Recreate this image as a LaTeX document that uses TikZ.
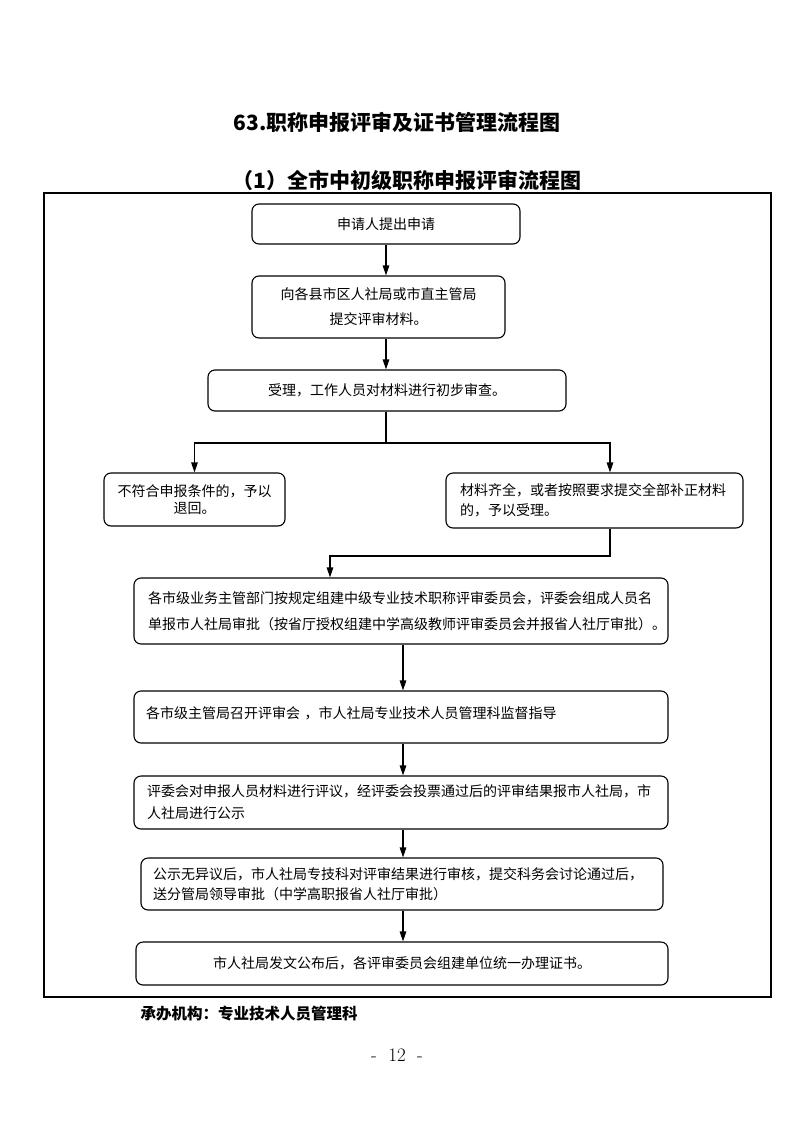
\documentclass[tikz,border=0pt]{standalone}
\usepackage{fontspec}
\newfontfamily\cjk{Noto Sans CJK SC}
\usetikzlibrary{arrows.meta}

\tikzset{
  procbox/.style={draw, line width=1.1pt, rounded corners=7pt, align=left,
    inner ysep=0pt, font=\cjk\fontsize{14}{22}\selectfont},
  arr/.style={line width=1.1pt, -{Triangle[length=10pt,width=6.5pt]}},
  link/.style={line width=1.1pt},
}

\begin{document}
\begin{tikzpicture}[x=1pt,y=-1pt]
    \useasboundingbox (0,0) rectangle (793,1122);

    % Headings
    \node[font=\cjk\bfseries\fontsize{21}{21}\selectfont] (title) at (397,122)
        {63.职称申报评审及证书管理流程图};
    \node[font=\cjk\bfseries\fontsize{21}{21}\selectfont] (subtitle) at (407,180)
        {（1）全市中初级职称申报评审流程图};

    % Frame
    \draw[line width=1.3pt] (44,193) rectangle (771,997);

    % Boxes
    \node[procbox, align=center, minimum width=268, minimum height=40] (apply) at (386,224)
        {申请人提出申请};
    \node[procbox, align=center, minimum width=253, minimum height=62,
          font=\cjk\fontsize{14}{25}\selectfont] (submit) at (378.5,307)
        {向各县市区人社局或市直主管局\\提交评审材料。};
    \node[procbox, align=center, minimum width=358, minimum height=41] (accept) at (387,390.5)
        {受理，工作人员对材料进行初步审查。};
    \node[procbox, align=center, minimum width=181, minimum height=53,
          font=\cjk\fontsize{14}{17}\selectfont] (reject) at (194.5,499.5)
        {不符合申报条件的，予以\\退回。};
    \node[procbox, inner xsep=14, text width=269, minimum height=55,
          font=\cjk\fontsize{14}{20}\selectfont] (okay) at (594.5,500.5)
        {材料齐全，或者按照要求提交全部补正材料\\的，予以受理。};
    \node[procbox, inner xsep=14, text width=506, minimum height=66,
          font=\cjk\fontsize{14}{26}\selectfont] (organize) at (401,611)
        {各市级业务主管部门按规定组建中级专业技术职称评审委员会，评委会组成人员名\\单报市人社局审批（按省厅授权组建中学高级教师评审委员会并报省人社厅审批）。};
    \node[procbox, inner xsep=12, text width=510, minimum height=52, text depth=9pt] (meeting) at (401,717)
        {各市级主管局召开评审会 ，市人社局专业技术人员管理科监督指导};
    \node[procbox, inner xsep=13, text width=508, minimum height=53] (review) at (401,802.5)
        {评委会对申报人员材料进行评议，经评委会投票通过后的评审结果报市人社局，市\\人社局进行公示};
    \node[procbox, inner xsep=12, text width=498, minimum height=52,
          font=\cjk\fontsize{14}{20}\selectfont] (publicize) at (402,884)
        {公示无异议后，市人社局专技科对评审结果进行审核，提交科务会讨论通过后，\\送分管局领导审批（中学高职报省人社厅审批）};
    \node[procbox, align=center, minimum width=532, minimum height=43] (issue) at (402,963.5)
        {市人社局发文公布后，各评审委员会组建单位统一办理证书。};

    % Connectors
    \coordinate (spine) at (386,0);
    \coordinate (lowspine) at (403,0);
    \coordinate (okaytap) at (610,0);
    \coordinate (fork) at (386,443);
    \coordinate (merge) at (330,556);

    \draw[arr] (spine |- apply.south) -- (spine |- submit.north);
    \draw[arr] (spine |- submit.south) -- (spine |- accept.north);
    \draw[link] (spine |- accept.south) -- (fork);
    \draw[arr] (fork) -| (reject.north);
    \draw[arr] (fork) -| (okaytap |- okay.north);
    \draw[arr] (okaytap |- okay.south) |- (merge) -- (merge |- organize.north);
    \draw[arr] (lowspine |- organize.south) -- (lowspine |- meeting.north);
    \draw[arr] (lowspine |- meeting.south) -- (lowspine |- review.north);
    \draw[arr] (lowspine |- review.south) -- (lowspine |- publicize.north);
    \draw[arr] (lowspine |- publicize.south) -- (lowspine |- issue.north);

    % Footer
    \node[font=\cjk\bfseries\fontsize{15.5}{15.5}\selectfont] (agency) at (249,1014)
        {承办机构：专业技术人员管理科};
    \node[font=\fontsize{19}{19}\selectfont] (pagenum) at (397,1055) {-\ \ 12\ \ -};
\end{tikzpicture}
\end{document}
